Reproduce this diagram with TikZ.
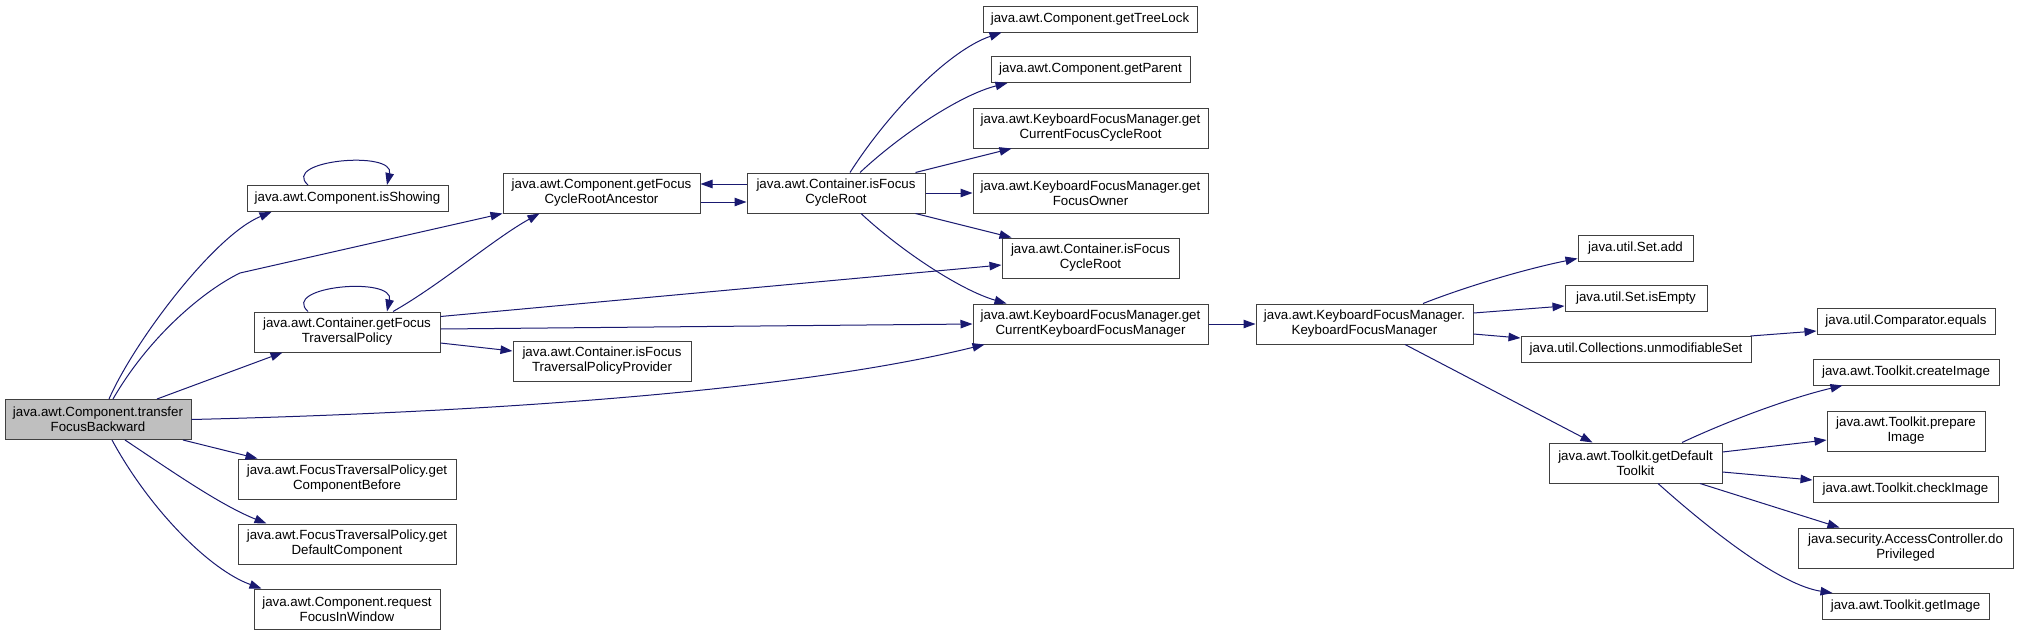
\documentclass[tikz,border=0pt]{standalone}
\usepackage{fontspec}
\setmainfont{Liberation Sans}
\usetikzlibrary{arrows.meta}
\definecolor{callblue}{RGB}{25,25,112}
\definecolor{boxline}{RGB}{64,64,64}
\definecolor{rootgray}{RGB}{191,191,191}

\begin{document}
\begin{tikzpicture}[
  x=1pt,y=-1pt,
  font=\fontsize{13.3}{15}\selectfont,
  fn/.style={draw=boxline,line width=1pt,fill=white,inner sep=0pt,align=center,minimum width=#1pt,minimum height=26pt},
  tall/.style={minimum height=40pt},
  rootfn/.style={fill=rootgray},
  call/.style={-{Triangle[length=12pt,width=8.5pt]},draw=callblue,line width=1pt},
]
  \useasboundingbox (0,0) rectangle (2019,635);

  \node[fn=186,tall,rootfn] (tfb) at (98,419.5) {java.awt.Component.transfer\\FocusBackward};
  \node[fn=201] (show) at (347.5,198.5) {java.awt.Component.isShowing};
  \node[fn=186,tall] (gftp) at (347,332) {java.awt.Container.getFocus\\TraversalPolicy};
  \node[fn=218,tall] (before) at (347,479) {java.awt.FocusTraversalPolicy.get\\ComponentBefore};
  \node[fn=218,tall] (defcomp) at (347,544) {java.awt.FocusTraversalPolicy.get\\DefaultComponent};
  \node[fn=186,tall] (reqfocus) at (347,609) {java.awt.Component.request\\FocusInWindow};
  \node[fn=197,tall] (ancestor) at (601.5,193) {java.awt.Component.getFocus\\CycleRootAncestor};
  \node[fn=178,tall] (cycroot) at (836,193) {java.awt.Container.isFocus\\CycleRoot};
  \node[fn=178,tall] (provider) at (602,361) {java.awt.Container.isFocus\\TraversalPolicyProvider};
  \node[fn=214] (treelock) at (1090,19) {java.awt.Component.getTreeLock};
  \node[fn=199] (parent) at (1090.5,69.5) {java.awt.Component.getParent};
  \node[fn=235,tall] (curroot) at (1090.5,128) {java.awt.KeyboardFocusManager.get\\CurrentFocusCycleRoot};
  \node[fn=235,tall] (owner) at (1090.5,193) {java.awt.KeyboardFocusManager.get\\FocusOwner};
  \node[fn=177,tall] (cycroot2) at (1090.5,258) {java.awt.Container.isFocus\\CycleRoot};
  \node[fn=235,tall] (curkfm) at (1090.5,324) {java.awt.KeyboardFocusManager.get\\CurrentKeyboardFocusManager};
  \node[fn=217,tall] (kfm) at (1364.5,324) {java.awt.KeyboardFocusManager.\\KeyboardFocusManager};
  \node[fn=115] (setadd) at (1635.5,248) {java.util.Set.add};
  \node[fn=142] (setempty) at (1636,298.5) {java.util.Set.isEmpty};
  \node[fn=230] (unmod) at (1636,349.5) {java.util.Collections.unmodifiableSet};
  \node[fn=178] (cmpeq) at (1906,321.5) {java.util.Comparator.equals};
  \node[fn=173,tall] (deftk) at (1635.5,463) {java.awt.Toolkit.getDefault\\Toolkit};
  \node[fn=186] (create) at (1906,372) {java.awt.Toolkit.createImage};
  \node[fn=158,tall] (prepare) at (1906,431) {java.awt.Toolkit.prepare\\Image};
  \node[fn=185] (check) at (1905.5,489.5) {java.awt.Toolkit.checkImage};
  \node[fn=215,tall] (doprivileged) at (1905.5,548) {java.security.AccessController.do\\Privileged};
  \node[fn=167] (getimage) at (1905.5,606.5) {java.awt.Toolkit.getImage};

  \draw[call] ([xshift=11]tfb.north) .. controls (135,340) and (215,235) .. ([xshift=25]show.south west);
  \draw[call] ([xshift=15]tfb.north) .. controls (150,335) and (205,290) .. (240,273) -- (ancestor.south west);
  \draw[call] ([xshift=59]tfb.north) -- ([xshift=29]gftp.south west);
  \draw[call] (tfb.east) .. controls (500,412) and (800,390) .. ([xshift=12]curkfm.south west);
  \draw[call] ([xshift=85]tfb.south) -- ([xshift=20]before.north west);
  \draw[call] ([xshift=27]tfb.south) .. controls (170,470) and (220,505) .. ([xshift=29]defcomp.north west);
  \draw[call] ([xshift=14]tfb.south) .. controls (150,510) and (210,570) .. ([xshift=8]reqfocus.north west);

  \draw[call] ([xshift=-39.5]show.north) .. controls (280,160) and (395,150) .. ([xshift=39.5]show.north);
  \draw[call] ([xshift=-39]gftp.north) .. controls (280,286) and (395,276) .. ([xshift=40]gftp.north);
  \draw[call] ([xshift=46]gftp.north) .. controls (440,285) and (495,238) .. ([xshift=37]ancestor.south west);
  \draw[call] ([yshift=-5]gftp.north east) -- ([yshift=-7]cycroot2.west);
  \draw[call] ([yshift=3]gftp.east) -- (curkfm.west);
  \draw[call] ([yshift=-11]gftp.east) -- ([yshift=10]provider.west);

  \draw[call] ([yshift=-9]ancestor.east) -- ([yshift=-9]cycroot.west);
  \draw[call] ([yshift=9]cycroot.west) -- ([yshift=9]ancestor.east);

  \draw[call] ([xshift=14]cycroot.north) .. controls (890,110) and (950,50) .. ([xshift=19]treelock.south west);
  \draw[call] ([xshift=24]cycroot.north) .. controls (900,135) and (960,95) .. ([xshift=17]parent.south west);
  \draw[call] ([xshift=-10]cycroot.north east) -- ([xshift=39]curroot.south west);
  \draw[call] (cycroot.east) -- (owner.west);
  \draw[call] ([xshift=-10]cycroot.south east) -- ([xshift=10]cycroot2.north west);
  \draw[call] ([xshift=25]cycroot.south) .. controls (900,250) and (960,290) .. ([xshift=34]curkfm.north west);

  \draw[call] (curkfm.east) -- (kfm.west);

  \draw[call] ([xshift=58.5]kfm.north) .. controls (1470,285) and (1530,268) .. ([yshift=3]setadd.south west);
  \draw[call] ([yshift=11]kfm.east) -- ([yshift=-7.5]setempty.west);
  \draw[call] ([yshift=-10]kfm.east) -- ([yshift=11.5]unmod.west);
  \draw[call] ([xshift=40.5]kfm.south) -- ([xshift=44]deftk.north west);
  \draw[call] ([xshift=-1]unmod.north east) -- ([yshift=-9.5]cmpeq.west);

  \draw[call] ([xshift=46.5]deftk.north) .. controls (1730,420) and (1790,398) .. ([xshift=30]create.south west);
  \draw[call] ([yshift=11]deftk.east) -- ([yshift=-9]prepare.west);
  \draw[call] ([yshift=-9]deftk.east) -- ([yshift=9.5]check.west);
  \draw[call] ([xshift=64.5]deftk.south) -- ([xshift=42]doprivileged.north west);
  \draw[call] ([xshift=22.5]deftk.south) .. controls (1710,530) and (1780,585) .. ([xshift=11]getimage.north west);
\end{tikzpicture}
\end{document}
